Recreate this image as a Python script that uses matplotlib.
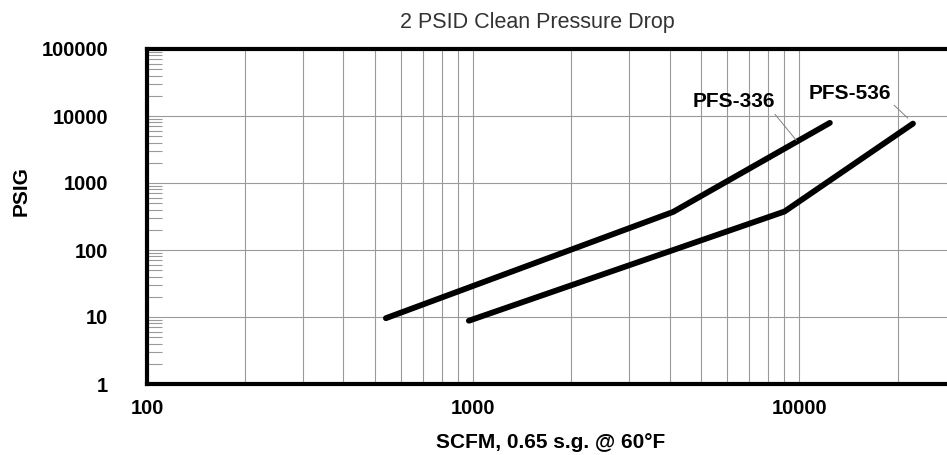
import matplotlib
matplotlib.use("Agg")
import matplotlib.pyplot as plt
from matplotlib.ticker import LogLocator, FixedLocator, NullFormatter

plt.rcParams["font.family"] = ["Liberation Sans", "DejaVu Sans"]

# data (SCFM vs PSIG, log-log)
pfs336_scfm = [540, 4100, 12400]
pfs336_psig = [9.6, 370, 7900]
pfs536_scfm = [970, 9000, 22300]
pfs536_psig = [8.8, 375, 7700]

x_ticks = [100, 1000, 10000]
x_tick_labels = ["100", "1000", "10000"]
y_ticks = [1, 10, 100, 1000, 10000, 100000]
y_tick_labels = ["1", "10", "100", "1000", "10000", "100000"]

W, H = 947, 455
fig = plt.figure(figsize=(W / 100, H / 100), dpi=100)
# axes run a little past the right edge, like the cropped original
ax = fig.add_axes([147 / W, 71 / H, 808 / W, 335 / H])

ax.set_xscale("log")
ax.set_yscale("log")
ax.set_xlim(100, 30000)
ax.set_ylim(1, 100000)

ax.plot(pfs336_scfm, pfs336_psig, color="black", lw=4.2,
        solid_capstyle="round", solid_joinstyle="round", zorder=3)
ax.plot(pfs536_scfm, pfs536_psig, color="black", lw=4.2,
        solid_capstyle="round", solid_joinstyle="round", zorder=3)

# grid: every x decade + minor, y decades only
grid_col = "#9a9a9a"
ax.xaxis.set_major_locator(FixedLocator(x_ticks))
ax.xaxis.set_minor_locator(LogLocator(base=10, subs=range(2, 10), numticks=20))
ax.xaxis.set_minor_formatter(NullFormatter())
ax.yaxis.set_major_locator(FixedLocator(y_ticks))
ax.yaxis.set_minor_locator(LogLocator(base=10, subs=range(2, 10), numticks=20))
ax.yaxis.set_minor_formatter(NullFormatter())
ax.set_xticklabels(x_tick_labels)
ax.set_yticklabels(y_tick_labels)

ax.grid(True, which="major", axis="both", color=grid_col, lw=0.8)
ax.grid(True, which="minor", axis="x", color=grid_col, lw=0.8)

ax.tick_params(axis="x", which="both", length=0, pad=11, labelsize=14.5)
ax.tick_params(axis="y", which="major", length=0, pad=28, labelsize=14.5)
ax.tick_params(axis="y", which="minor", direction="in", length=11,
               width=0.8, color=grid_col)
for lab in ax.get_xticklabels() + ax.get_yticklabels():
    lab.set_fontweight("bold")

for side in ("left", "top", "bottom"):
    ax.spines[side].set_linewidth(3)
ax.spines["right"].set_visible(False)

ax.set_xlabel("SCFM, 0.65 s.g. @ 60°F", fontsize=15, fontweight="bold",
              va="baseline")
ax.xaxis.set_label_coords(0.5, -0.191)
ax.set_ylabel("PSIG", fontsize=15, fontweight="bold", ha="center", va="center")
ax.yaxis.set_label_coords(-0.156, 0.576)

fig.text(537 / W, 1 - 28 / H, "2 PSID Clean Pressure Drop", fontsize=15.5,
         color="#333333", ha="center", va="baseline")

leader = dict(arrowstyle="-", color="#808080", lw=0.7, shrinkA=0, shrinkB=0)
ax.annotate("PFS-336", xy=(9800, 4300), xytext=(6300, 16200),
            fontsize=15, fontweight="bold", ha="center", va="center",
            arrowprops=dict(leader, relpos=(0.97, 0.0)))
ax.annotate("PFS-536", xy=(21500, 9300), xytext=(14300, 22000),
            fontsize=15, fontweight="bold", ha="center", va="center",
            arrowprops=dict(leader, relpos=(1.0, 0.0)))

fig.savefig("out.png", dpi=100)
